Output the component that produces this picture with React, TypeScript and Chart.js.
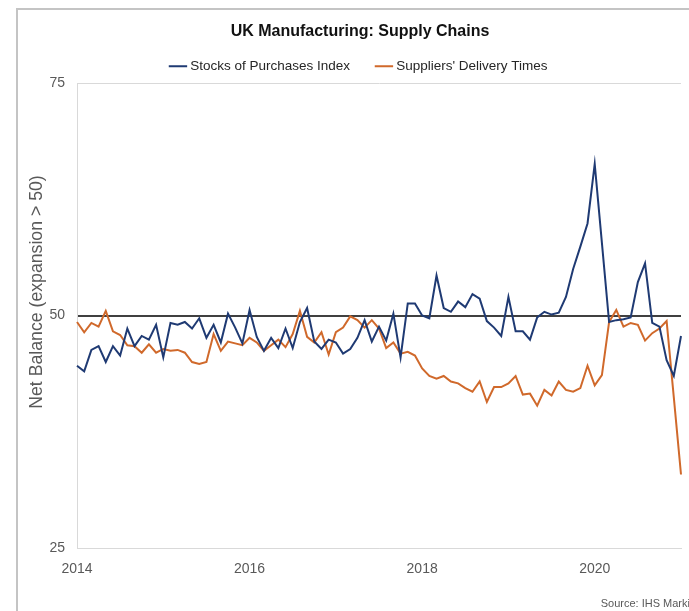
import React, { useEffect, useRef } from 'react';
import { Chart, registerables } from 'chart.js';

Chart.register(...registerables);

// ---- Data ----
const monthNames = ['Jan', 'Feb', 'Mar', 'Apr', 'May', 'Jun', 'Jul', 'Aug', 'Sep', 'Oct', 'Nov', 'Dec'];
const years = [2014, 2015, 2016, 2017, 2018, 2019, 2020, 2021];
const months = years.flatMap((y) => monthNames.map((m) => `${m} ${y}`)).slice(0, 85);

const stocksOfPurchases = [
  44.6, 44.0, 46.3, 46.7, 45.0, 46.7, 45.7, 48.6, 46.7, 47.8,
  47.4, 49.0, 45.5, 49.2, 49.0, 49.3, 48.6, 49.7, 47.6, 49.0,
  47.1, 50.2, 48.7, 47.0, 50.6, 47.7, 46.2, 47.6, 46.5, 48.6,
  46.5, 49.3, 50.8, 47.2, 46.4, 47.4, 47.1, 45.9, 46.4, 47.6,
  49.5, 47.2, 48.8, 47.3, 50.2, 45.5, 51.3, 51.3, 50.0, 49.7,
  54.3, 50.8, 50.4, 51.5, 50.9, 52.3, 51.8, 49.4, 48.7, 47.8,
  52.0, 48.3, 48.3, 47.4, 49.8, 50.4, 50.1, 50.3, 52.0, 55.0,
  57.4, 59.9, 66.3, 57.8, 49.3, 49.5, 49.6, 49.8, 53.6, 55.6,
  49.2, 48.8, 45.2, 43.5, 47.8,
];

const suppliersDeliveryTimes = [
  49.3, 48.2, 49.2, 48.8, 50.5, 48.3, 47.9, 46.8, 46.7, 46.0,
  46.9, 46.0, 46.4, 46.2, 46.3, 46.0, 45.0, 44.8, 45.0, 48.0,
  46.2, 47.2, 47.0, 46.8, 47.6, 47.1, 46.2, 46.8, 47.4, 46.6,
  48.0, 50.5, 47.7, 47.1, 48.2, 45.8, 48.2, 48.7, 49.9, 49.5,
  48.7, 49.5, 48.6, 46.5, 47.1, 45.9, 46.1, 45.7, 44.3, 43.5,
  43.2, 43.5, 42.9, 42.7, 42.2, 41.8, 42.9, 40.7, 42.3, 42.3,
  42.7, 43.5, 41.5, 41.6, 40.3, 42.0, 41.4, 42.9, 42.0, 41.8,
  42.2, 44.6, 42.5, 43.6, 49.3, 50.6, 48.8, 49.2, 49.0, 47.3,
  48.1, 48.6, 49.4, 41.2, 32.9,
];

const xTickLabels = ['2014', '2016', '2018', '2020'];
const yTickValues = [25, 50, 75];

const SANS = "'Liberation Sans', Arial, Helvetica, sans-serif";

const yTitlePlugin = {
  id: 'yTitle',
  afterDraw(chart: any) {
    const ctx = chart.ctx;
    ctx.save();
    ctx.translate(37, 292);
    ctx.rotate(-Math.PI / 2);
    ctx.font = `17.7px ${SANS}`;
    ctx.fillStyle = '#595959';
    ctx.textAlign = 'center';
    ctx.textBaseline = 'middle';
    ctx.fillText('Net Balance (expansion > 50)', 0, 0);
    ctx.restore();
  },
};

export default function App() {
  const ref = useRef<HTMLCanvasElement>(null);

  useEffect(() => {
    const chart = new Chart(ref.current as HTMLCanvasElement, {
      type: 'line',
      data: {
        labels: months,
        datasets: [
          {
            label: 'Stocks of Purchases Index',
            data: stocksOfPurchases,
            borderColor: '#1f3a73',
            backgroundColor: '#1f3a73',
            borderWidth: 2,
            pointRadius: 0,
            pointBorderWidth: 2,
            tension: 0,
          },
          {
            label: "Suppliers' Delivery Times",
            data: suppliersDeliveryTimes,
            borderColor: '#d0692b',
            backgroundColor: '#d0692b',
            borderWidth: 2,
            pointRadius: 0,
            pointBorderWidth: 2,
            tension: 0,
          },
        ],
      },
      options: {
        responsive: false,
        maintainAspectRatio: false,
        animation: false,
        events: [],
        layout: { padding: 0 },
        plugins: {
          title: {
            display: true,
            text: 'UK Manufacturing: Supply Chains',
            color: '#111111',
            font: { family: SANS, size: 16, weight: 'bold' },
            padding: { top: 22.4, bottom: -10.6 },
          },
          legend: {
            display: true,
            labels: {
              color: '#262626',
              font: { family: SANS, size: 13.5 },
              usePointStyle: true,
              pointStyle: 'line',
              boxWidth: 10.9,
              boxHeight: 13,
              padding: 28.5,
            },
          },
          tooltip: { enabled: false },
        },
        scales: {
          x: {
            type: 'category',
            offset: false,
            afterFit: (s: any) => {
              s.height = 63;
            },
            afterBuildTicks: (s: any) => {
              s.ticks = s.ticks.filter((t: any) => {
                const m = months[t.value];
                return m && m.startsWith('Jan') && xTickLabels.includes(m.slice(4));
              });
            },
            grid: { display: false, drawTicks: false },
            border: { display: true, color: '#d9d9d9', width: 1 },
            ticks: {
              autoSkip: false,
              maxRotation: 0,
              padding: 13,
              color: '#595959',
              font: { family: SANS, size: 14 },
              callback: (v: any) => months[v].slice(4),
            },
          },
          y: {
            position: 'left',
            min: 25,
            max: 75,
            afterFit: (s: any) => {
              s.width = 77;
            },
            afterBuildTicks: (s: any) => {
              s.ticks = yTickValues.map((v) => ({ value: v }));
            },
            grid: {
              drawTicks: false,
              color: (c: any) => (c.tick && c.tick.value === 50 ? '#404040' : '#d9d9d9'),
              lineWidth: (c: any) => (c.tick && c.tick.value === 50 ? 2 : 1),
            },
            border: { display: true, color: '#d9d9d9', width: 1 },
            ticks: {
              padding: 12,
              color: '#595959',
              font: { family: SANS, size: 14 },
              callback: (v: any) => String(v),
            },
          },
          yRight: {
            position: 'right',
            display: true,
            afterFit: (s: any) => {
              s.width = 39;
            },
            grid: { display: false, drawTicks: false },
            border: { display: false },
            ticks: { display: false },
          },
        },
      },
      plugins: [yTitlePlugin],
    } as any);
    return () => chart.destroy();
  }, []);

  return (
    <div
      style={{
        position: 'absolute',
        left: 0,
        top: 0,
        width: 689,
        height: 611,
        overflow: 'hidden',
        background: '#ffffff',
      }}
    >
      <div
        style={{
          position: 'absolute',
          left: 16,
          top: 8,
          width: 900,
          height: 900,
          borderLeft: '2px solid #c4c4c4',
          borderTop: '2px solid #c4c4c4',
        }}
      />
      <canvas
        ref={ref}
        width={720}
        height={611}
        style={{ position: 'absolute', left: 0, top: 0, width: 720, height: 611 }}
      />
      <div
        style={{
          position: 'absolute',
          right: -4,
          top: 596,
          font: `11px ${SANS}`,
          color: '#595959',
          whiteSpace: 'nowrap',
          lineHeight: '14px',
        }}
      >
        Source: IHS Markit
      </div>
    </div>
  );
}
